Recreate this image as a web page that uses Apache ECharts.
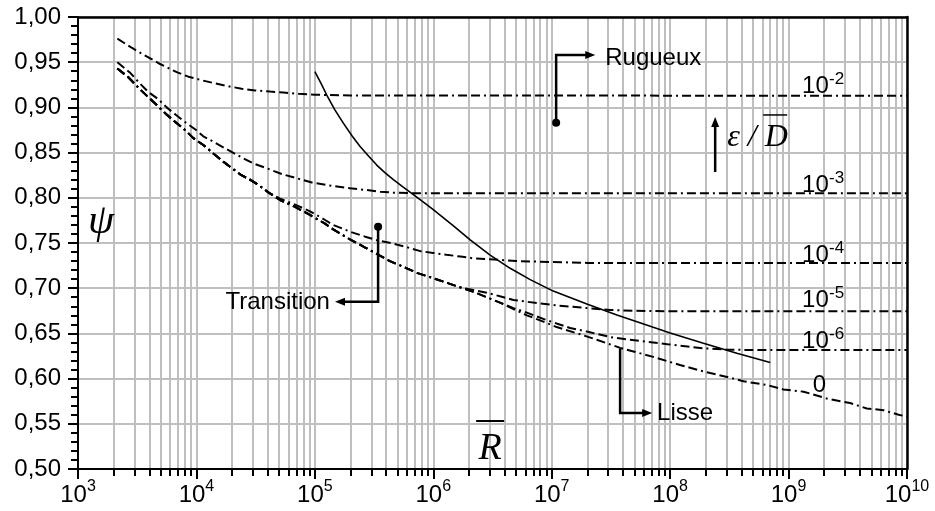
<!DOCTYPE html>
<html><head><meta charset="utf-8">
<script src="https://cdn.jsdelivr.net/npm/echarts@6/dist/echarts.min.js"></script>
<style>html,body{margin:0;padding:0;background:#fff}#c{width:935px;height:511px}</style>
</head><body><div id="c"></div>
<script>
// ---- axes ----
const xDecades = [3, 4, 5, 6, 7, 8, 9, 10];          // 10^3 ... 10^10
const yTicks = [0.50, 0.55, 0.60, 0.65, 0.70, 0.75, 0.80, 0.85, 0.90, 0.95, 1.00];

// ---- curves: [Reynolds number R, psi] ----
const curveRough1e2 = [[2150,0.976],[2840,0.966],[3510,0.959],[4930,0.948],[6820,0.939],[8550,0.934],[11100,0.930],[14350,0.9266],[18000,0.9237],[24100,0.9207],[31300,0.9188],[41900,0.9175],[54200,0.9165],[72600,0.915],[1e5,0.914],[2e5,0.9133],[1e10,0.9128]];
const curveRough1e3 = [[2150,0.950],[2786,0.9377],[3297,0.927],[3927,0.917],[4770,0.909],[5610,0.900],[6730,0.8916],[8170,0.883],[9930,0.875],[11430,0.868],[13900,0.862],[17450,0.8547],[24150,0.8446],[30300,0.838],[39300,0.8326],[52500,0.8263],[70300,0.8216],[94200,0.817],[1.43e5,0.813],[1.98e5,0.8105],[2.74e5,0.8086],[3.55e5,0.8068],[4.6e5,0.8057],[7e5,0.805],[1e10,0.805]];
const curveRough1e4 = [[2150,0.943],[2661,0.9333],[3228,0.922],[3800,0.913],[4620,0.9027],[5535,0.8927],[6590,0.8842],[8010,0.875],[9420,0.866],[11430,0.8584],[13900,0.849],[16860,0.840],[19200,0.8344],[23370,0.826],[28370,0.820],[33350,0.8142],[40500,0.806],[50800,0.799],[68000,0.7925],[91000,0.785],[1.2e5,0.776],[1.43e5,0.770],[1.98e5,0.7625],[2.66e5,0.757],[3.44e5,0.7526],[4.46e5,0.7497],[5.76e5,0.746],[7.76e5,0.741],[1e6,0.739],[1.29e6,0.737],[1.7e6,0.735],[2.2e6,0.733],[3e6,0.732],[5e6,0.730],[1e7,0.729],[2e7,0.728],[1e10,0.728]];
const curveRough1e5 = [[2150,0.943],[2661,0.9333],[3228,0.922],[3800,0.913],[4620,0.9027],[5535,0.8927],[6590,0.8842],[8010,0.875],[9420,0.866],[11430,0.8584],[13900,0.849],[16860,0.840],[19200,0.8344],[23370,0.826],[28370,0.820],[33350,0.8142],[40500,0.806],[50800,0.7976],[68000,0.790],[91000,0.781],[1.2e5,0.772],[1.43e5,0.765],[1.98e5,0.754],[2.66e5,0.745],[3.44e5,0.737],[4.3e5,0.730],[5.97e5,0.722],[7.26e5,0.717],[1e6,0.711],[1.3e6,0.706],[1.68e6,0.701],[2.18e6,0.698],[2.83e6,0.695],[3.66e6,0.691],[4.75e6,0.687],[6.17e6,0.685],[1.1e7,0.681],[1.98e7,0.678],[3.11e7,0.676],[5e7,0.675],[1e8,0.6744],[1e10,0.6744]];
const curveRough1e6 = [[2150,0.943],[2661,0.9333],[3228,0.922],[3800,0.913],[4620,0.9027],[5535,0.8927],[6590,0.8842],[8010,0.875],[9420,0.866],[11430,0.8584],[13900,0.849],[16860,0.840],[19200,0.8344],[23370,0.826],[28370,0.820],[33350,0.8142],[40500,0.806],[50800,0.7976],[68000,0.790],[91000,0.781],[1.2e5,0.772],[1.43e5,0.765],[1.98e5,0.754],[2.66e5,0.745],[3.44e5,0.737],[4.3e5,0.730],[5.97e5,0.722],[7.26e5,0.717],[1e6,0.711],[1.3e6,0.706],[1.68e6,0.701],[2.18e6,0.696],[2.83e6,0.690],[3.66e6,0.684],[4.75e6,0.678],[6.17e6,0.673],[8.5e6,0.666],[1.1e7,0.661],[1.43e7,0.656],[1.98e7,0.652],[3.11e7,0.646],[4.3e7,0.6435],[6.2e7,0.641],[9.5e7,0.638],[1.4e8,0.6355],[1.91e8,0.6335],[3e8,0.632],[5e8,0.6316],[1e10,0.6316]];
const curveSmooth = [[2150,0.943],[2661,0.9333],[3228,0.922],[3800,0.913],[4620,0.9027],[5535,0.8927],[6590,0.8842],[8010,0.875],[9420,0.866],[11430,0.8584],[13900,0.849],[16860,0.840],[19200,0.8344],[23370,0.826],[28370,0.820],[33350,0.8142],[40500,0.806],[50800,0.7976],[68000,0.790],[91000,0.781],[1.2e5,0.772],[1.43e5,0.765],[1.98e5,0.754],[2.66e5,0.745],[3.44e5,0.737],[4.3e5,0.730],[5.97e5,0.722],[7.26e5,0.717],[1e6,0.711],[1.3e6,0.706],[1.68e6,0.701],[2.18e6,0.696],[2.83e6,0.690],[3.66e6,0.684],[4.75e6,0.677],[6.17e6,0.670],[8.5e6,0.663],[1.1e7,0.657],[1.74e7,0.649],[2.4e7,0.643],[3.78e7,0.634],[4.9e7,0.630],[7.2e7,0.624],[1.21e8,0.615],[1.91e8,0.608],[3.43e8,0.600],[4.16e8,0.597],[6.55e8,0.593],[9.05e8,0.588],[1.34e9,0.5855],[2.1e9,0.578],[3.3e9,0.573],[4.58e9,0.567],[6.34e9,0.565],[8.5e9,0.560],[1e10,0.558]];
const curveLimit = [[1.0e5,0.9395],[1.13e5,0.9262],[1.26e5,0.9137],[1.48e5,0.8970],[1.74e5,0.8826],[2.05e5,0.8690],[2.41e5,0.8568],[2.85e5,0.8460],[3.33e5,0.8362],[3.9e5,0.8278],[4.6e5,0.8200],[5.5e5,0.8124],[6.57e5,0.8050],[8.1e5,0.7960],[1e6,0.7870],[1.48e6,0.7690],[2.05e6,0.7535],[3.02e6,0.7365],[4.46e6,0.7220],[6.58e6,0.7095],[1.03e7,0.6968],[1.98e7,0.6825],[3.55e7,0.6703],[7.2e7,0.6567],[1e8,0.6505],[1.91e8,0.6390],[3.66e8,0.6280],[7e8,0.6178]];

// ---- annotation anchors (data coordinates) ----
const ratioLabels = [['-2',1.3e9,0.9159],['-3',1.3e9,0.8064],['-4',1.3e9,0.729],['-5',1.3e9,0.6792],['-6',1.3e9,0.6339]];
const zeroLabel = ['0',1.6e9,0.5852];
const arrowRugueux = [[1.09e7,0.883],[1.09e7,0.958],[2.33e7,0.958]];
const arrowTransition = [[3.42e5,0.768],[3.42e5,0.685],[1.48e5,0.685]];
const arrowLisse = [[3.78e7,0.633],[3.78e7,0.562],[7.05e7,0.562]];
const arrowRatio = [[2.4e8,0.8285],[2.4e8,0.8894]];
const textRugueux = ['Rugueux',2.83e7,0.9546];
const textTransition = ['Transition',1.34e5,0.6847];
const textLisse = ['Lisse',7.76e7,0.5619];
const textPsi = ['ψ',1563,0.7732];
const textR = ['R',3.02e6,0.5221];
const textEps = ['ε / D',3.03e8,0.8662];

const SANS = '"Liberation Sans", Arial, sans-serif';
const SERIF = '"Liberation Serif", "Times New Roman", serif';

const minorPositions = [];
xDecades.slice(0, -1).forEach(e => { for (let k = 2; k <= 9; k++) minorPositions.push(e + Math.log10(k)); });

const chart = echarts.init(document.getElementById('c'));
const dashDot = { color: '#000', width: 2, type: [9, 4, 9, 4, 2, 4] };
const mk = (name, data, style) => ({
  name, type: 'line', xAxisIndex: 0, yAxisIndex: 0, data, symbol: 'none', showSymbol: false,
  smooth: false, lineStyle: style, silent: true, z: 5
});
const gridGray = { color: '#bfbfbf', width: 2 };
const frameLine = { show: true, onZero: false, lineStyle: { color: '#000', width: 2.5 } };

const option = {
  animation: false,
  backgroundColor: '#fff',
  grid: { left: 78, right: 28, top: 17, bottom: 42, containLabel: false },
  xAxis: [
    {
      type: 'log', logBase: 10, min: 1e3, max: 1e10, position: 'bottom',
      axisLine: { show: true, onZero: false, lineStyle: { color: '#000', width: 2 } },
      axisTick: { show: true, length: 10, lineStyle: { color: '#000', width: 2 } },
      splitLine: { show: true, lineStyle: gridGray },
      axisLabel: {
        interval: 0, margin: 10, showMinLabel: true, showMaxLabel: true,
        formatter: v => '{b|10}{s|' + Math.round(Math.log10(v)) + '}',
        rich: {
          b: { fontSize: 24, fontFamily: SANS, color: '#000', lineHeight: 28, verticalAlign: 'bottom' },
          s: { fontSize: 16, fontFamily: SANS, color: '#000', lineHeight: 14, verticalAlign: 'top' }
        }
      }
    },
    {
      type: 'value', min: 3, max: 10, position: 'bottom',
      axisLine: { show: false },
      axisTick: { show: true, length: 7, customValues: minorPositions, lineStyle: { color: '#000', width: 2 } },
      axisLabel: { show: false },
      splitLine: { show: true, lineStyle: gridGray }
    },
    {
      type: 'value', min: 3, max: 10, position: 'top', z: 20,
      axisLine: frameLine, axisTick: { show: false }, axisLabel: { show: false }, splitLine: { show: false }
    }
  ],
  yAxis: [
    {
      type: 'value', min: 0.5, max: 1.0, interval: 0.05, position: 'left',
      axisLine: { show: true, onZero: false, lineStyle: { color: '#000', width: 2 } },
      axisTick: { show: true, length: 10, lineStyle: { color: '#000', width: 2 } },
      minorTick: { show: true, splitNumber: 5, length: 7, lineStyle: { color: '#000', width: 2 } },
      splitLine: { show: true, lineStyle: gridGray },
      axisLabel: {
        margin: 17, fontSize: 24, fontFamily: SANS, color: '#000',
        formatter: v => v.toFixed(2).replace('.', ',')
      }
    },
    {
      type: 'value', min: 0.5, max: 1.0, position: 'right', z: 20,
      axisLine: frameLine, axisTick: { show: false }, axisLabel: { show: false }, splitLine: { show: false }
    }
  ],
  series: [
    mk('1e-2', curveRough1e2, dashDot),
    mk('1e-3', curveRough1e3, dashDot),
    mk('1e-4', curveRough1e4, dashDot),
    mk('1e-5', curveRough1e5, dashDot),
    mk('1e-6', curveRough1e6, dashDot),
    mk('0', curveSmooth, dashDot),
    mk('limite', curveLimit, { color: '#000', width: 1.6, type: 'solid' })
  ]
};
chart.setOption(option);

// ---- annotations ----
const P = (x, y) => chart.convertToPixel({ xAxisIndex: 0, yAxisIndex: 0 }, [x, y]);
const g = [];
const txt = (s, p, font, align, valign) => g.push({
  type: 'text', x: p[0], y: p[1], z: 120,
  style: { text: s, font, fill: '#000', align, verticalAlign: valign, textAlign: align, textVerticalAlign: valign }
});
const arrow = (pts, dot) => {
  const px = pts.map(p => P(p[0], p[1]));
  const tip = px[px.length - 1], prev = px[px.length - 2];
  const dx = tip[0] - prev[0], dy = tip[1] - prev[1], L = Math.hypot(dx, dy);
  const ux = dx / L, uy = dy / L, hl = 10, hw = 4;
  const base = [tip[0] - ux * hl, tip[1] - uy * hl];
  const lineEnd = [tip[0] - ux * (hl - 2), tip[1] - uy * (hl - 2)];
  g.push({ type: 'polyline', z: 110, shape: { points: px.slice(0, -1).concat([lineEnd]) }, style: { stroke: '#000', lineWidth: 2.5, fill: null } });
  g.push({ type: 'polygon', z: 110, shape: { points: [tip, [base[0] - uy * hw, base[1] + ux * hw], [base[0] + uy * hw, base[1] - ux * hw]] }, style: { fill: '#000' } });
  if (dot) g.push({ type: 'circle', z: 110, shape: { cx: px[0][0], cy: px[0][1], r: 4 }, style: { fill: '#000' } });
};

arrow(arrowRugueux, true);
arrow(arrowTransition, true);
arrow(arrowLisse, false);
arrow(arrowRatio, false);

txt(textRugueux[0], P(textRugueux[1], textRugueux[2]), '24px ' + SANS, 'left', 'middle');
txt(textTransition[0], P(textTransition[1], textTransition[2]), '24px ' + SANS, 'right', 'middle');
txt(textLisse[0], P(textLisse[1], textLisse[2]), '24px ' + SANS, 'left', 'middle');

txt(textPsi[0], P(textPsi[1], textPsi[2]), 'italic 42px ' + SERIF, 'center', 'middle');
const rp = P(textR[1], textR[2]);
txt(textR[0], rp, 'italic 38px ' + SERIF, 'center', 'middle');
g.push({ type: 'line', z: 110, shape: { x1: rp[0] - 14, y1: rp[1] - 28, x2: rp[0] + 14, y2: rp[1] - 28 }, style: { stroke: '#000', lineWidth: 2 } });
const ep = P(textEps[1], textEps[2]);
txt(textEps[0], ep, 'italic 32px ' + SERIF, 'left', 'middle');
g.push({ type: 'line', z: 110, shape: { x1: ep[0] + 36, y1: ep[1] - 23, x2: ep[0] + 60, y2: ep[1] - 23 }, style: { stroke: '#000', lineWidth: 1.5 } });

ratioLabels.forEach(r => {
  const p = P(r[1], r[2]);
  txt('10', [p[0], p[1] + 5], '24px ' + SANS, 'left', 'bottom');
  txt(r[0], [p[0] + 27, p[1] - 5], '17px ' + SANS, 'left', 'bottom');
});
const zp = P(zeroLabel[1], zeroLabel[2]);
txt(zeroLabel[0], [zp[0], zp[1] + 5], '24px ' + SANS, 'left', 'bottom');

chart.setOption({ graphic: { elements: g } });
</script></body></html>
